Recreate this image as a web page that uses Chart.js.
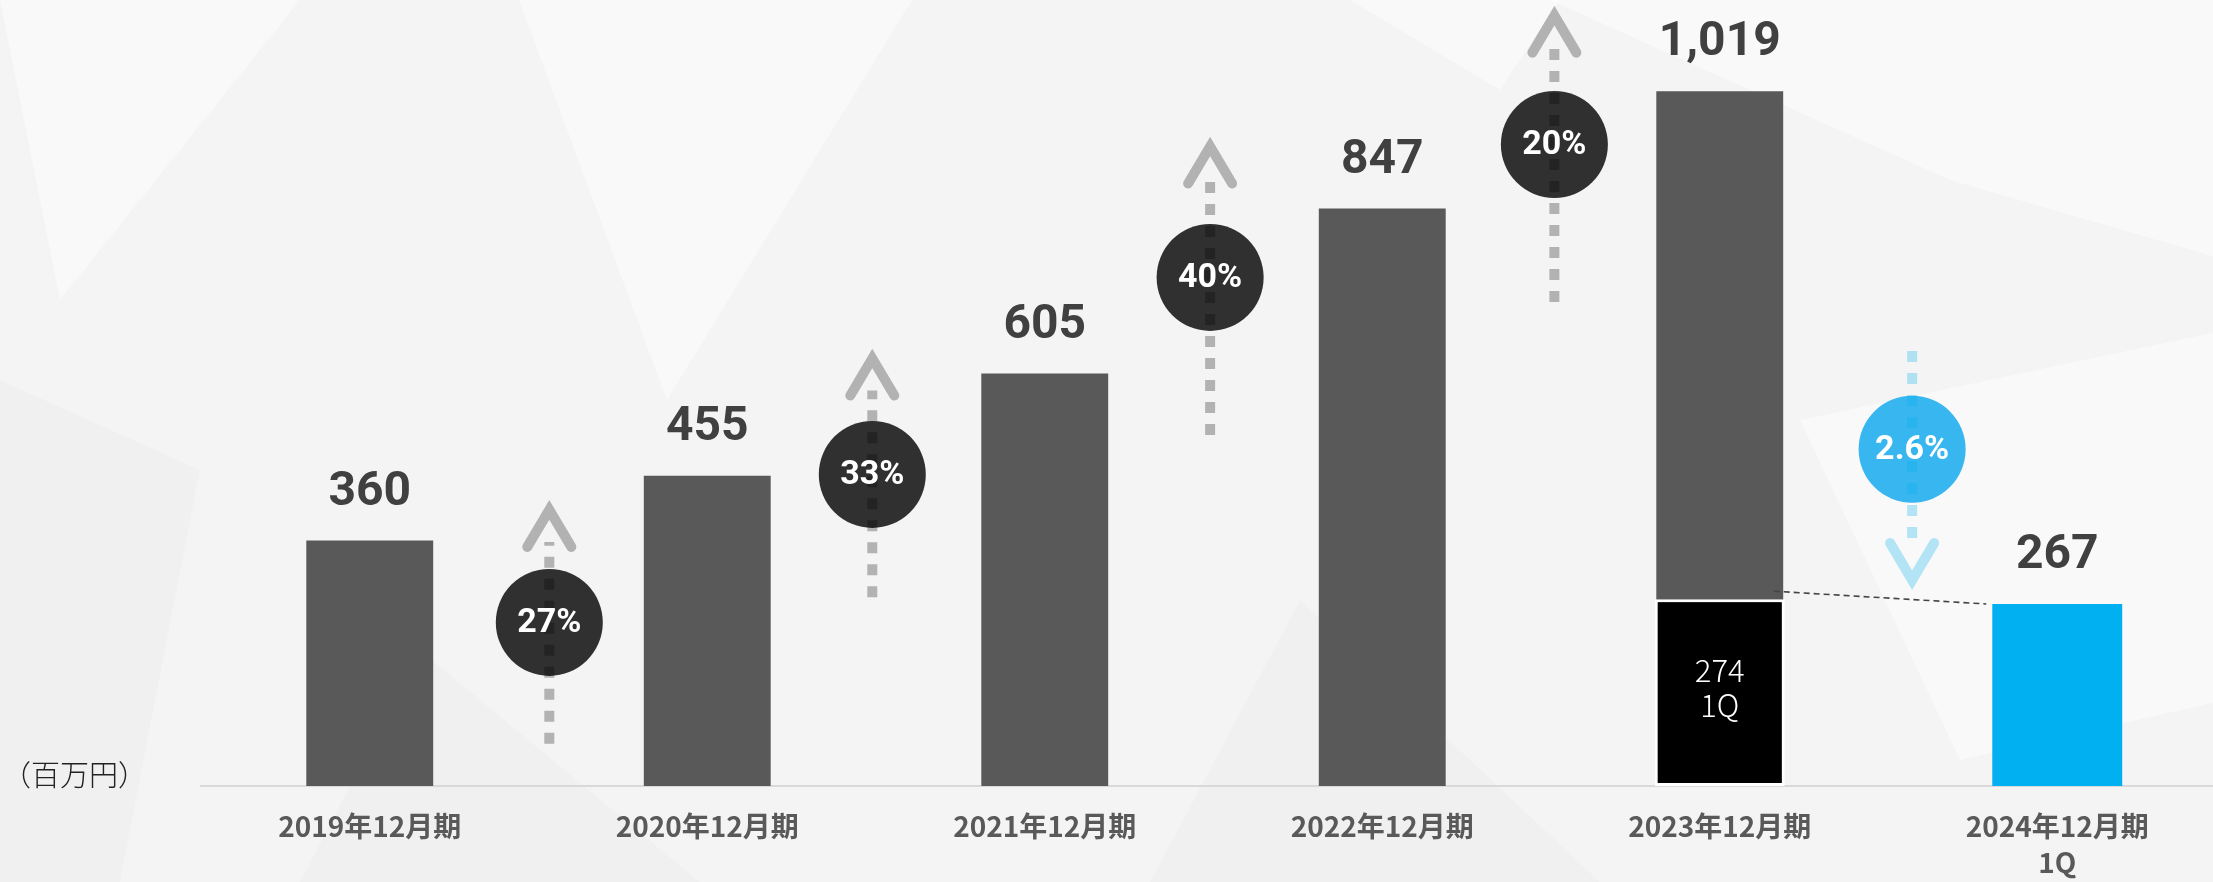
<!DOCTYPE html>
<html><head><meta charset="utf-8">
<script src="https://cdn.jsdelivr.net/npm/chart.js@4"></script>
<style>
html,body{margin:0;padding:0;overflow:hidden;background:#f5f5f5;}
#wrap{position:absolute;left:0;top:0;width:2213px;height:882px;overflow:hidden;}
</style></head>
<body>
<div id="wrap"><canvas id="c" width="2226" height="882" style="width:2226px;height:882px"></canvas></div>
<script>
// ---- data ----
const categories = ['2019年12月期','2020年12月期','2021年12月期','2022年12月期','2023年12月期',['2024年12月期','1Q']];
const annualSales = [360, 455, 605, 847, 1019, null];
const q1Sales = [null, null, null, null, 274, 267];
const q1Tag = '1Q';
const growthLabels = ['27%', '33%', '40%', '20%', '2.6%'];
const growthX = [0.532, 1.489, 2.49, 3.51, 4.57];      // category-axis position
const growthCircleY = [240, 457, 746, 941, 494];     // value-axis position
const arrowFrom = [62, 277, 515, 710, 638];
const arrowTo = [405, 627, 938, 1130, 302];
const unitLabel = '（百万円）';

const fmt = v => v.toLocaleString('en-US');

const bgPlugin = {
  id: 'bg',
  beforeDraw(chart) {
    const ctx = chart.ctx;
    ctx.save();
    ctx.fillStyle = '#f4f4f4';
    ctx.fillRect(0, 0, chart.width, chart.height);
    const polys = [
      [[519,0],[912,0],[667,400]],
      [[1550,0],[2226,0],[2226,260],[1950,180]],
      [[1800,420],[2226,330],[2226,700],[1960,760]],
      [[1350,0],[1560,0],[1500,90]],
      [[0,0],[300,0],[60,300]]
    ];
    ctx.fillStyle = 'rgba(255,255,255,0.45)';
    polys.forEach(p => { ctx.beginPath(); p.forEach((pt,i)=> i?ctx.lineTo(pt[0],pt[1]):ctx.moveTo(pt[0],pt[1])); ctx.closePath(); ctx.fill(); });
    const dark = [
      [[0,380],[200,470],[120,882],[0,882]],
      [[420,650],[700,882],[300,882]],
      [[1300,600],[1600,882],[1150,882]]
    ];
    ctx.fillStyle = 'rgba(0,0,0,0.015)';
    dark.forEach(p => { ctx.beginPath(); p.forEach((pt,i)=> i?ctx.lineTo(pt[0],pt[1]):ctx.moveTo(pt[0],pt[1])); ctx.closePath(); ctx.fill(); });
    ctx.restore();
  }
};

const annoPlugin = {
  id: 'anno',
  afterDatasetsDraw(chart) {
    const ctx = chart.ctx;
    const xs = chart.scales.x, ys = chart.scales.y;
    ctx.save();
    // unit label
    ctx.fillStyle = '#222222';
    ctx.font = '300 29px "Noto Sans CJK JP"';
    ctx.textAlign = 'left';
    ctx.textBaseline = 'middle';
    ctx.fillText(unitLabel, 2, ys.getPixelForValue(16));

    // value labels
    const mA = chart.getDatasetMeta(0), mQ = chart.getDatasetMeta(1);
    ctx.fillStyle = '#404040';
    ctx.font = 'bold 48px Roboto';
    ctx.textAlign = 'center';
    ctx.textBaseline = 'alphabetic';
    annualSales.forEach((v, i) => {
      if (v == null) return;
      const el = mA.data[i];
      ctx.fillText(fmt(v), el.x, el.y - 36);
    });
    q1Sales.forEach((v, i) => {
      if (v == null) return;
      const el = mQ.data[i];
      if (annualSales[i] == null) {
        ctx.fillStyle = '#404040';
        ctx.font = 'bold 48px Roboto';
        ctx.fillText(fmt(v), el.x, el.y - 36);
      } else {
        ctx.fillStyle = '#ffffff';
        ctx.font = '300 31px "Noto Sans CJK JP"';
        ctx.fillText(fmt(v), el.x, el.y + 83);
        ctx.fillText(q1Tag, el.x, el.y + 118);
      }
    });

    // dashed connector between the two 1Q bars
    const e4 = mQ.data[4], e5 = mQ.data[5];
    ctx.strokeStyle = '#444444';
    ctx.lineWidth = 1.6;
    ctx.setLineDash([6, 4]);
    ctx.beginPath();
    ctx.moveTo(e4.x + e4.width / 2 - 11, e4.y - 8);
    ctx.lineTo(e5.x - e5.width / 2 - 6, e5.y);
    ctx.stroke();
    ctx.setLineDash([]);

    // growth circles + arrows
    growthLabels.forEach((lab, i) => {
      const x = xs.getPixelForValue(growthX[i]);
      const cy = ys.getPixelForValue(growthCircleY[i]);
      const y0 = ys.getPixelForValue(arrowFrom[i]);
      const y1 = ys.getPixelForValue(arrowTo[i]);
      const blue = y1 > y0;
      const s = blue ? -1 : 1;
      ctx.fillStyle = blue ? '#38b6ef' : '#303030';
      ctx.beginPath();
      ctx.arc(x, cy, 53.5, 0, Math.PI * 2);
      ctx.fill();
      const col = blue ? 'rgba(0,176,240,0.28)' : 'rgba(0,0,0,0.27)';
      ctx.strokeStyle = col;
      ctx.lineWidth = 10;
      ctx.lineCap = 'butt';
      ctx.setLineDash([11, 11]);
      ctx.beginPath();
      ctx.moveTo(x, y0);
      ctx.lineTo(x, y1 + s * 32);
      ctx.stroke();
      ctx.setLineDash([]);
      ctx.lineCap = 'round';
      ctx.lineJoin = 'miter';
      ctx.beginPath();
      ctx.moveTo(x - 22, y1 + s * 37);
      ctx.lineTo(x, y1);
      ctx.lineTo(x + 22, y1 + s * 37);
      ctx.stroke();
      ctx.fillStyle = '#ffffff';
      ctx.font = 'bold 34px Roboto';
      ctx.textAlign = 'center';
      ctx.textBaseline = 'middle';
      ctx.fillText(lab, x, cy + 1);
    });
    ctx.restore();
  }
};

new Chart(document.getElementById('c'), {
  type: 'bar',
  data: {
    labels: categories,
    datasets: [
      {
        label: '通期',
        data: annualSales,
        backgroundColor: '#595959',
        order: 1,
        barPercentage: 0.376,
        categoryPercentage: 1
      },
      {
        label: '1Q',
        data: q1Sales,
        backgroundColor: ['#000','#000','#000','#000','#000000','#00b0f0'],
        borderColor: '#ffffff',
        borderWidth: [0,0,0,0,3,0],
        borderSkipped: false,
        order: 0,
        barPercentage: 0.385,
        categoryPercentage: 1
      }
    ]
  },
  options: {
    responsive: false,
    devicePixelRatio: 1,
    animation: false,
    layout: { padding: { left: 201, right: 0, top: 2, bottom: 0 } },
    plugins: { legend: { display: false }, tooltip: { enabled: false } },
    datasets: { bar: { grouped: false } },
    scales: {
      x: {
        grid: { display: false, drawTicks: false, tickLength: 0 },
        border: { display: true, color: '#d9d9d9', width: 2 },
        ticks: {
          color: '#595959',
          font: { family: '"Noto Sans CJK JP"', weight: 'bold', size: 28, lineHeight: 1.3 },
          padding: 22,
          maxRotation: 0,
          autoSkip: false
        },
        afterFit(scale) { scale.height = 96; }
      },
      y: { display: false, min: 0, max: 1150 }
    }
  },
  plugins: [bgPlugin, annoPlugin]
});
</script>
</body></html>
